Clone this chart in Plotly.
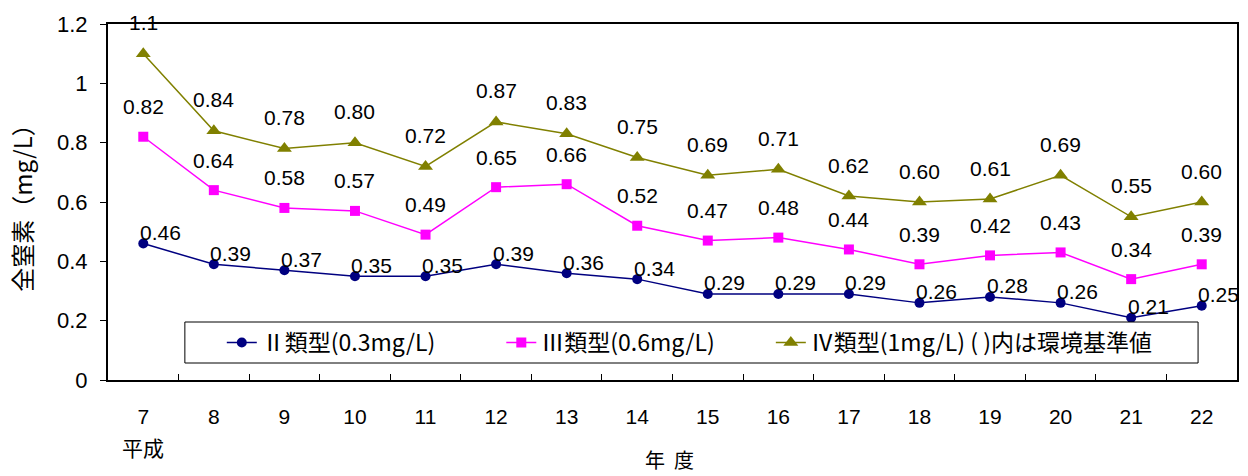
import plotly.graph_objects as go

years = ["7", "8", "9", "10", "11", "12", "13", "14", "15", "16", "17", "18", "19", "20", "21", "22"]
type2 = [0.46, 0.39, 0.37, 0.35, 0.35, 0.39, 0.36, 0.34, 0.29, 0.29, 0.29, 0.26, 0.28, 0.26, 0.21, 0.25]
type3 = [0.82, 0.64, 0.58, 0.57, 0.49, 0.65, 0.66, 0.52, 0.47, 0.48, 0.44, 0.39, 0.42, 0.43, 0.34, 0.39]
type4 = [1.1, 0.84, 0.78, 0.80, 0.72, 0.87, 0.83, 0.75, 0.69, 0.71, 0.62, 0.60, 0.61, 0.69, 0.55, 0.60]
names = ["Ⅱ類型(0.3mg/L)", "Ⅲ類型(0.6mg/L)", "Ⅳ類型(1mg/L) ( )内は環境基準値"]


def fmt(v):
    return f"{v:.2f}" if v < 1 else f"{v:g}"


NUM_FONT = "Liberation Sans, Arial, sans-serif"
JP_FONT = "Noto Sans CJK JP, sans-serif"

L, R, T, B = 108, 9, 24, 96
PW, PH = 1248 - L - R, 476 - T - B


def px_x(p):
    return (p - L) / PW


def px_y(p):
    return (476 - B - p) / PH


fig = go.Figure()
styles = [
    (type2, "#000080", "circle", 10, "legend", 222),
    (type3, "#FF00FF", "square", 10, "legend2", 502),
    (type4, "#808000", "triangle-up", 13, "legend3", 772),
]
for (vals, col, sym, sz, lg, _), nm in zip(styles, names):
    fig.add_trace(go.Scatter(
        x=years, y=vals, mode="lines+markers", name=nm, legend=lg,
        line=dict(color=col, width=1.5),
        marker=dict(symbol=sym, size=sz, color=col),
    ))

# data labels
for vals, xs, ys in [(type2, 17, 11), (type3, 0, 30), (type4, 0, 31)]:
    for i, v in enumerate(vals):
        fig.add_annotation(x=i, y=v, text=fmt(v), showarrow=False,
                           xshift=xs, yshift=ys,
                           font=dict(family=NUM_FONT, size=21, color="black"))

fig.add_annotation(x=0, y=0, text="平成", showarrow=False,
                   yshift=-67, font=dict(family=JP_FONT, size=21, color="black"))
fig.add_annotation(xref="paper", yref="paper", x=px_x(670), y=px_y(459),
                   text="年  度", showarrow=False, yanchor="middle",
                   font=dict(family=JP_FONT, size=20, color="black"))

# legend frame
fig.add_shape(type="rect", xref="paper", yref="paper",
              x0=px_x(185), x1=px_x(1200), y0=px_y(363), y1=px_y(322),
              fillcolor="white", line=dict(color="black", width=1), layer="above")

legend_common = dict(
    orientation="h", y=px_y(342.5), xanchor="left", yanchor="middle",
    bgcolor="rgba(0,0,0,0)", borderwidth=0,
    font=dict(family=JP_FONT, size=23, color="black"),
)
legends = {}
for (_, _, _, _, lg, lx) in styles:
    legends[lg] = dict(legend_common, x=px_x(lx))

fig.update_layout(
    width=1248, height=476,
    margin=dict(l=L, r=R, t=T, b=B),
    paper_bgcolor="white", plot_bgcolor="white",
    showlegend=True,
    **legends,
    xaxis=dict(
        type="category", tickson="boundaries", ticks="inside", ticklen=6,
        tickcolor="black", showline=True, linecolor="black", linewidth=2,
        mirror=True, showgrid=False, ticklabelstandoff=17,
        range=[-0.5, 15.5],
        tickfont=dict(family="Liberation Sans Narrow, " + NUM_FONT, size=21, color="black"),
    ),
    yaxis=dict(
        range=[0, 1.2], dtick=0.2, ticks="outside", ticklen=6, tickcolor="black",
        showline=True, linecolor="black", linewidth=2, mirror=True,
        showgrid=False, zeroline=False, ticklabelstandoff=8,
        tickfont=dict(family=NUM_FONT, size=22, color="black"),
        title=dict(text="全窒素（mg/L）", standoff=18,
                   font=dict(family=JP_FONT, size=24, color="black")),
    ),
)

fig.write_html("out.html", config={"displayModeBar": False},
               post_script="document.body.style.margin='0';")
